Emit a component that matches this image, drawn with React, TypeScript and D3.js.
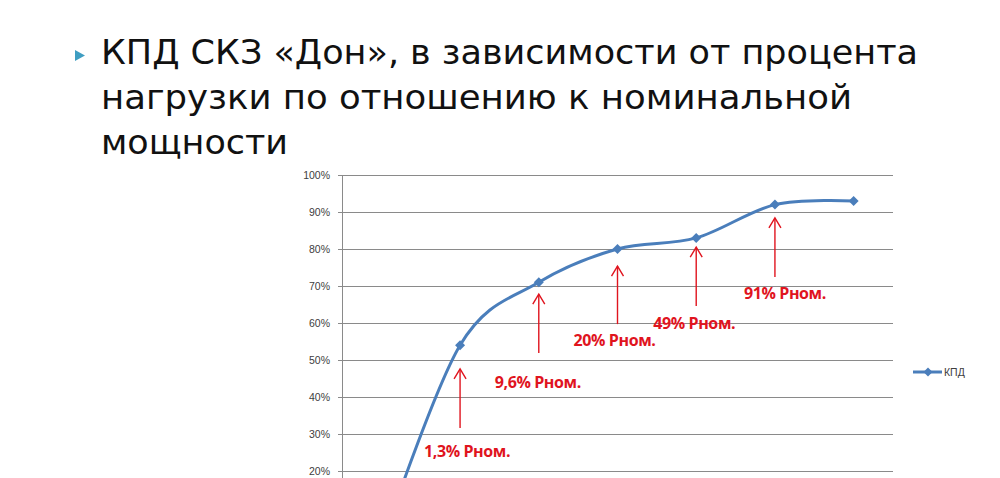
import * as d3 from 'd3';

// load categories (share of nominal power) and measured efficiency
const categories = ['0', '1,3', '9,6', '20', '49', '91', '100'];
const efficiency = [0, 0.54, 0.71, 0.8, 0.83, 0.92, 0.93];
const yTicks = [0.2, 0.3, 0.4, 0.5, 0.6, 0.7, 0.8, 0.9, 1.0];

// red call-outs
const annotIndex = [1, 2, 3, 4, 5];
const annotLabels = ['1,3% Рном.', '9,6% Рном.', '20% Рном.', '49% Рном.', '91% Рном.'];
const annotArrowTop = [0.476, 0.678, 0.754, 0.805, 0.884];
const annotArrowBottom = [0.316, 0.519, 0.597, 0.646, 0.724];
const annotLabelLevel = [0.254, 0.44, 0.554, 0.6, 0.681];
const annotLabelShift = [7, -1, -3, -2, 10];

const titleLines = [
    'КПД СКЗ «Дон», в зависимости от процента',
    'нагрузки по отношению к номинальной',
    'мощности',
];
const titleWidths = [817, 751, 187];

const WIDTH = 1000;
const HEIGHT = 478;
const plot = { left: 342, right: 893, top: 175, bottom: 545 };

const BLUE = '#4a7ebb';
const RED = '#e0141e';

function diamond(cx: number, cy: number, r: number) {
    return `M${cx},${cy - r}L${cx + r},${cy}L${cx},${cy + r}L${cx - r},${cy}Z`;
}

export default function App() {
    const x = d3.scaleBand<string>().domain(categories).range([plot.left, plot.right]);
    const y = d3.scaleLinear().domain([0, 1]).range([plot.bottom, plot.top]);
    const cx = (c: string) => (x(c) ?? 0) + x.bandwidth() / 2;

    const points: [number, number][] = categories.map((c, i) => [cx(c), y(efficiency[i])]);
    const line = d3.line().curve(d3.curveCardinal.tension(0))(points) ?? '';

    return (
        <svg
            width={WIDTH}
            height={HEIGHT}
            viewBox={`0 0 ${WIDTH} ${HEIGHT}`}
            style={{ position: 'absolute', left: 0, top: 0, background: '#fff' }}
        >
            {/* slide title */}
            <path d="M75,50L85,55.5L75,61Z" fill="#3f9ec2" />
            {titleLines.map((t, i) => (
                <text
                    key={i}
                    x={101}
                    y={64 + i * 45}
                    fontFamily="DejaVu Sans"
                    fontSize={34}
                    fill="#111"
                    textLength={titleWidths[i]}
                    lengthAdjust="spacingAndGlyphs"
                >
                    {t}
                </text>
            ))}

            {/* grid and y axis */}
            <g>
                {yTicks.map((t) => (
                    <g key={t}>
                        <line
                            x1={plot.left - 4}
                            x2={plot.right}
                            y1={Math.round(y(t)) + 0.5}
                            y2={Math.round(y(t)) + 0.5}
                            stroke="#8a8a8a"
                            strokeWidth={1}
                        />
                        <text
                            x={330}
                            y={y(t)}
                            dy="0.35em"
                            textAnchor="end"
                            fontFamily="Liberation Sans"
                            fontSize={10.5}
                            fill="#404040"
                        >
                            {d3.format('.0%')(t)}
                        </text>
                    </g>
                ))}
                <line
                    x1={plot.left + 0.5}
                    x2={plot.left + 0.5}
                    y1={plot.top}
                    y2={plot.bottom}
                    stroke="#8a8a8a"
                />
            </g>

            {/* series */}
            <path d={line} fill="none" stroke={BLUE} strokeWidth={3} strokeLinejoin="round" />
            {points.map(([px, py], i) => (
                <path key={i} d={diamond(px, py, 5)} fill={BLUE} />
            ))}

            {/* annotations */}
            {annotIndex.map((ci, i) => {
                const ax = cx(categories[ci]);
                const top = y(annotArrowTop[i]);
                const bot = y(annotArrowBottom[i]);
                return (
                    <g key={i}>
                        <line x1={ax} x2={ax} y1={top} y2={bot} stroke={RED} strokeWidth={1.4} />
                        <path
                            d={`M${ax - 6},${top + 10}L${ax},${top}L${ax + 6},${top + 10}`}
                            fill="none"
                            stroke={RED}
                            strokeWidth={1.4}
                        />
                        <text
                            x={ax + annotLabelShift[i]}
                            y={y(annotLabelLevel[i])}
                            dy="0.35em"
                            textAnchor="middle"
                            fontFamily="Open Sans"
                            fontWeight="bold"
                            fontSize={16}
                            letterSpacing={-0.4}
                            fill={RED}
                        >
                            {annotLabels[i]}
                        </text>
                    </g>
                );
            })}

            {/* legend */}
            <g>
                <line x1={913} x2={942} y1={372} y2={372} stroke={BLUE} strokeWidth={3} />
                <path d={diamond(928, 372, 4.5)} fill={BLUE} />
                <text
                    x={944}
                    y={372}
                    dy="0.35em"
                    fontFamily="Liberation Sans"
                    fontSize={10.5}
                    fill="#404040"
                >
                    КПД
                </text>
            </g>
        </svg>
    );
}
